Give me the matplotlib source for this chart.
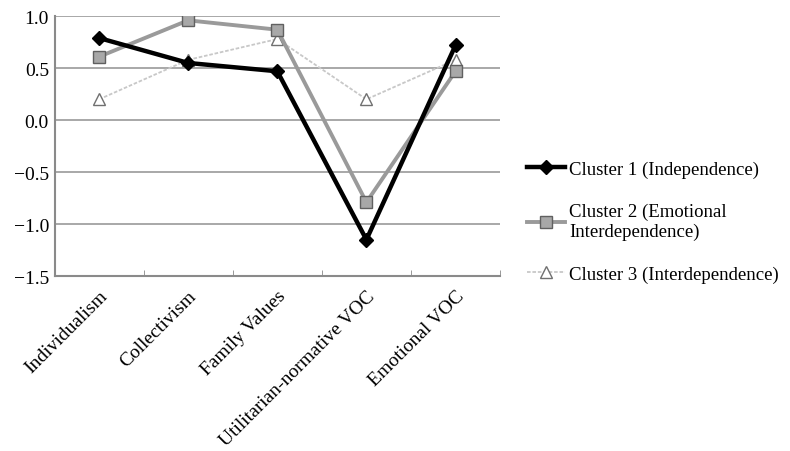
import matplotlib
matplotlib.use("Agg")
import matplotlib.pyplot as plt
import numpy as np

categories = ["Individualism", "Collectivism", "Family Values",
              "Utilitarian-normative VOC", "Emotional VOC"]
cluster1 = [0.79, 0.55, 0.47, -1.15, 0.72]
cluster2 = [0.61, 0.96, 0.87, -0.79, 0.47]
cluster3 = [0.20, 0.58, 0.78, 0.20, 0.58]
labels = ["Cluster 1 (Independence)",
          "Cluster 2 (Emotional\nInterdependence)",
          "Cluster 3 (Interdependence)"]
yticks = [1.0, 0.5, 0.0, -0.5, -1.0, -1.5]

plt.rcParams['font.family'] = ['Liberation Serif', 'DejaVu Serif']

fig = plt.figure(figsize=(7.9, 4.52), dpi=100)
ax = fig.add_axes([0.069, 0.387, 0.564, 0.575])
x = np.arange(len(categories))

l1, = ax.plot(x, cluster1, color='black', lw=3.2, marker='D', ms=7,
              markerfacecolor='black', zorder=5)
l2, = ax.plot(x, cluster2, color='#9a9a9a', lw=2.8, marker='s', ms=9,
              markerfacecolor='#a8a8a8', markeredgecolor='#606060', zorder=4)
l3, = ax.plot(x, cluster3, color='#c8c8c8', lw=1.3, ls=(0, (2, 1)), marker='^', ms=9,
              markerfacecolor='white', markeredgecolor='#707070', zorder=3)

ax.set_xlim(-0.5, len(categories) - 0.5)
ax.set_ylim(-1.5, 1.0)
ax.set_yticks(yticks)
ax.set_yticklabels([f"{v:.1f}".replace("-", "\u2212") for v in yticks], fontsize=14)
ax.yaxis.grid(True, color='#9a9a9a', lw=1.2)
ax.set_axisbelow(True)
ax.set_xticks(x)
ax.set_xticklabels(categories, rotation=45, ha='right', rotation_mode='anchor', fontsize=14)
ax.tick_params(axis='x', length=0, pad=8)
ax.set_xticks(np.arange(-0.5, len(categories)), minor=True)
ax.tick_params(axis='x', which='minor', length=4, color='#888888', direction='in')
ax.tick_params(axis='y', length=0, pad=4)
for s in ['top', 'right']:
    ax.spines[s].set_visible(False)
for s in ['left', 'bottom']:
    ax.spines[s].set_color('#8a8a8a')
    ax.spines[s].set_linewidth(1.5)

fig.legend([l1, l2, l3], labels, loc='upper left', bbox_to_anchor=(0.667, 0.643),
           frameon=False, fontsize=13.5, labelspacing=1.35, handlelength=2.05,
           handletextpad=0.2, borderpad=0, borderaxespad=0)

fig.savefig("out.png", dpi=100)
